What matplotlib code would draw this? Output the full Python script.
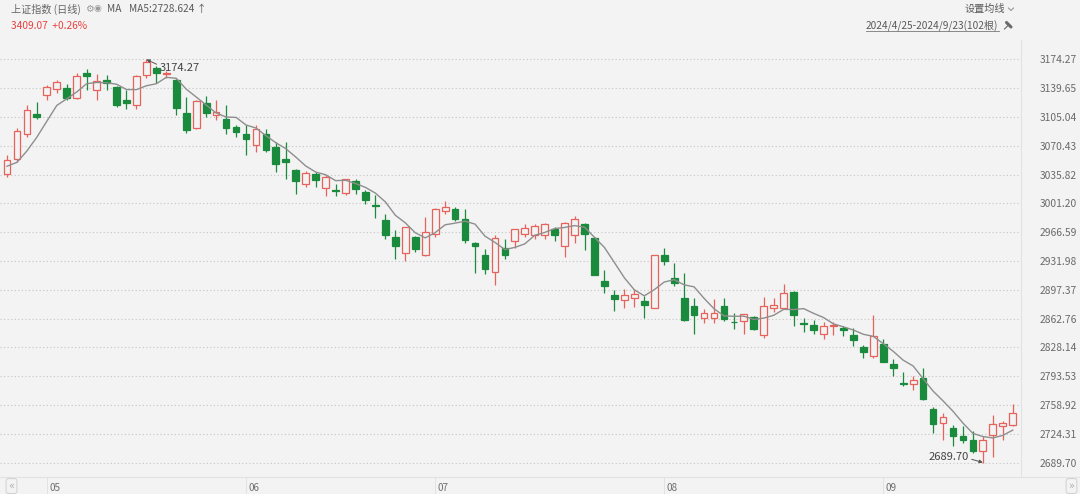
import numpy as np
import pandas as pd
import matplotlib
matplotlib.use("Agg")
import matplotlib.pyplot as plt

plt.rcParams['font.family'] = ['Noto Sans CJK SC', 'DejaVu Sans']

# 上证指数 日线 2024/4/25 - 2024/9/23
dates = [
    '2024-04-25', '2024-04-26', '2024-04-29', '2024-04-30',
    '2024-05-06', '2024-05-07', '2024-05-08', '2024-05-09', '2024-05-10',
    '2024-05-13', '2024-05-14', '2024-05-15', '2024-05-16', '2024-05-17',
    '2024-05-20', '2024-05-21', '2024-05-22', '2024-05-23', '2024-05-24',
    '2024-05-27', '2024-05-28', '2024-05-29', '2024-05-30', '2024-05-31',
    '2024-06-03', '2024-06-04', '2024-06-05', '2024-06-06', '2024-06-07',
    '2024-06-11', '2024-06-12', '2024-06-13', '2024-06-14',
    '2024-06-17', '2024-06-18', '2024-06-19', '2024-06-20', '2024-06-21',
    '2024-06-24', '2024-06-25', '2024-06-26', '2024-06-27', '2024-06-28',
    '2024-07-01', '2024-07-02', '2024-07-03', '2024-07-04', '2024-07-05',
    '2024-07-08', '2024-07-09', '2024-07-10', '2024-07-11', '2024-07-12',
    '2024-07-15', '2024-07-16', '2024-07-17', '2024-07-18', '2024-07-19',
    '2024-07-22', '2024-07-23', '2024-07-24', '2024-07-25', '2024-07-26',
    '2024-07-29', '2024-07-30', '2024-07-31',
    '2024-08-01', '2024-08-02',
    '2024-08-05', '2024-08-06', '2024-08-07', '2024-08-08', '2024-08-09',
    '2024-08-12', '2024-08-13', '2024-08-14', '2024-08-15', '2024-08-16',
    '2024-08-19', '2024-08-20', '2024-08-21', '2024-08-22', '2024-08-23',
    '2024-08-26', '2024-08-27', '2024-08-28', '2024-08-29', '2024-08-30',
    '2024-09-02', '2024-09-03', '2024-09-04', '2024-09-05', '2024-09-06',
    '2024-09-09', '2024-09-10', '2024-09-11', '2024-09-12', '2024-09-13',
    '2024-09-18', '2024-09-19', '2024-09-20', '2024-09-23',
]
opens = [
    3037, 3054, 3085, 3108.5,
    3131, 3139, 3140, 3128, 3158,
    3138, 3149, 3141, 3126, 3120,
    3155.5, 3164, 3156.5, 3150, 3110,
    3092, 3122, 3108, 3103, 3093,
    3085, 3071, 3085, 3069, 3054,
    3041, 3025, 3037, 3020,
    3017, 3014, 3028.5, 3014.5, 2999.5,
    2981, 2961, 2942, 2961, 2939,
    2964, 2992.5, 2994, 2983, 2953.5,
    2939, 2919, 2948, 2956, 2965,
    2963, 2963, 2970, 2950, 2963,
    2977, 2960, 2908, 2891, 2885,
    2888, 2884, 2876,
    2939, 2912,
    2888, 2878, 2863, 2864, 2878,
    2858.5, 2860, 2865, 2843, 2876,
    2876, 2895, 2858, 2855, 2844,
    2854, 2851, 2843, 2829, 2818,
    2832, 2808, 2785, 2784, 2791,
    2754, 2737, 2731, 2721.6, 2716.7,
    2703, 2723, 2733.6, 2735,
]
highs = [
    3059, 3092, 3119, 3123,
    3143, 3150, 3145, 3158, 3163,
    3157, 3155, 3142, 3137, 3156,
    3174.27, 3166, 3161, 3150.5, 3129,
    3126, 3130, 3126, 3119, 3096,
    3095, 3095, 3091, 3075, 3075,
    3043, 3040, 3039, 3035,
    3025, 3031, 3031, 3017, 3011,
    2989, 2969, 2973, 2962, 2985,
    2995.5, 3004, 2997, 2995, 2955,
    2946, 2963, 2958, 2971, 2977,
    2977, 2977.5, 2973, 2979, 2986,
    2978, 2960.5, 2921, 2897, 2898,
    2898, 2890, 2939.5,
    2947, 2930,
    2917, 2887, 2874, 2886, 2887,
    2869, 2867, 2866, 2889, 2887,
    2904, 2895.5, 2863, 2861, 2859,
    2859, 2854, 2851, 2831, 2867,
    2838, 2814, 2799, 2794, 2803,
    2756, 2749, 2735, 2734, 2727,
    2721.6, 2747, 2740, 2759.6,
]
lows = [
    3033, 3051, 3081, 3103,
    3125, 3134, 3125, 3127, 3137,
    3125, 3137, 3117, 3115, 3115,
    3152, 3146, 3152, 3108, 3086,
    3091, 3105, 3101, 3085, 3081,
    3059, 3063, 3063, 3039, 3030,
    3013, 3021, 3021, 3010,
    3010, 3011, 3013, 3000, 2984,
    2959, 2934, 2932, 2943, 2938,
    2961, 2988.5, 2980, 2954, 2918,
    2916, 2903, 2934, 2947, 2961,
    2959, 2958, 2956, 2937, 2954,
    2945, 2915, 2893, 2872, 2875,
    2877, 2864, 2876,
    2927, 2902,
    2860, 2844, 2857, 2857, 2860,
    2850, 2844, 2849, 2839, 2871,
    2875, 2854, 2847, 2844, 2838,
    2843, 2842, 2830, 2815, 2815.5,
    2810, 2794, 2782, 2777, 2765,
    2725, 2717, 2709.5, 2713.5, 2701.5,
    2689.70, 2696.7, 2716.7, 2733,
]
closes = [
    3052.90, 3088.64, 3113.04, 3104.82,
    3140.72, 3147.74, 3128.48, 3154.32, 3154.55,
    3148.02, 3145.77, 3119.90, 3122.40, 3154.03,
    3171.15, 3157.97, 3158.54, 3116.39, 3088.87,
    3124.04, 3109.57, 3111.02, 3091.68, 3086.81,
    3078.49, 3091.20, 3065.40, 3048.79, 3051.28,
    3028.05, 3037.47, 3028.92, 3032.63,
    3015.89, 3030.25, 3018.05, 3005.44, 2998.14,
    2963.10, 2950.00, 2972.53, 2945.85, 2967.40,
    2994.73, 2997.01, 2982.38, 2957.57, 2949.93,
    2922.45, 2959.37, 2939.36, 2970.39, 2971.30,
    2974.01, 2976.30, 2962.85, 2977.13, 2982.31,
    2964.22, 2915.37, 2901.95, 2886.43, 2890.90,
    2891.85, 2879.30, 2938.75,
    2932.39, 2905.34,
    2860.70, 2867.28, 2869.90, 2869.83, 2862.19,
    2858.20, 2867.95, 2850.65, 2877.36, 2879.43,
    2893.67, 2866.66, 2856.58, 2848.77, 2854.37,
    2855.52, 2848.76, 2837.43, 2823.11, 2842.21,
    2811.04, 2802.98, 2784.28, 2788.31, 2765.81,
    2736.49, 2744.19, 2721.80, 2717.12, 2704.09,
    2717.28, 2736.02, 2736.81, 2748.92,
]
# closes of the 4 sessions before 4/25, only for the MA5 warm-up
prev_closes = [3065.26, 3044.60, 3021.98, 3044.82]

ytick_vals = [2689.70, 2724.31, 2758.92, 2793.53, 2828.14, 2862.76, 2897.37,
              2931.98, 2966.59, 3001.20, 3035.82, 3070.43, 3105.04, 3139.65,
              3174.27]

W, H = 1080, 494
BG = '#f3f3f3'
RED = '#e8625c'
GREEN = '#1a8a3c'
GRID = '#c4c4c4'
TXT = '#5a5a5a'


def fx(px):
    return px / W


def fy(py):
    return 1 - py / H


fig = plt.figure(figsize=(W / 100, H / 100), dpi=100, facecolor=BG)
ax = fig.add_axes([0, 17 / H, 1020.5 / W, 437 / H], facecolor=BG)

o, h, l, c = (np.array(v, dtype=float) for v in (opens, highs, lows, closes))
xs = np.arange(len(c))
up = c >= o
col = np.where(up, RED, GREEN)

# 影线
ax.vlines(xs, l, h, colors=col, linewidth=0.9, zorder=2)
# 实体: 阳线空心, 阴线实心
body_lo = np.minimum(o, c)
body_h = np.abs(c - o)
ax.bar(xs[up], body_h[up], bottom=body_lo[up], width=0.68,
       facecolor=BG, edgecolor=RED, linewidth=0.9, zorder=3)
ax.bar(xs[~up], body_h[~up], bottom=body_lo[~up], width=0.68,
       facecolor=GREEN, edgecolor=GREEN, linewidth=0.9, zorder=3)

# MA5
ma5 = pd.Series(prev_closes + closes).rolling(5).mean().iloc[len(prev_closes):].to_numpy()
ax.plot(xs, ma5, color='#8e8e8e', linewidth=1.0, zorder=4)

ax.set_xlim(-0.703, 101.78)
ax.set_ylim(2672.27, 3197.67)

# 网格 + 右侧价格轴
ax.set_yticks(ytick_vals)
ax.set_yticklabels([f'{v:.2f}' for v in ytick_vals])
ax.yaxis.tick_right()
ax.tick_params(axis='y', length=0, pad=40.5, labelsize=7.4, labelcolor='#6a6a6a')
for t in ax.get_yticklabels():
    t.set_horizontalalignment('right')
ax.yaxis.grid(True, color=GRID, linestyle=(0, (1, 2.2)), linewidth=0.8)
ax.set_axisbelow(True)

# 月份刻度
month_idx = [i for i in range(1, len(dates)) if dates[i][:7] != dates[i - 1][:7]]
ax.set_xticks(month_idx)
ax.tick_params(axis='x', length=12.2, width=0.7, color='#e2e2e2', labelbottom=False)
xtr = ax.get_xaxis_transform()
for i in month_idx:
    ax.text(i + 0.25, -0.0252, dates[i][5:7], transform=xtr, ha='left', va='center',
            fontsize=7.2, color='#707070')

for s in ('top', 'left'):
    ax.spines[s].set_visible(False)
ax.spines['right'].set_color('#e2e2e2')
ax.spines['bottom'].set_color('#e2e2e2')
ax.spines['right'].set_linewidth(0.8)
ax.spines['bottom'].set_linewidth(0.8)
fig.add_artist(plt.Line2D([fx(1020), 1], [fy(477), fy(477)], color='#e2e2e2', linewidth=0.8))

# 最高/最低标注
i_hi = int(np.argmax(h))
i_lo = int(np.argmin(l))
ax.annotate(f'{h[i_hi]:.2f}', xy=(i_hi, h[i_hi]), xytext=(i_hi + 1.3, h[i_hi] - 10.3),
            ha='left', va='center', fontsize=8, color='#444444', zorder=6,
            arrowprops=dict(arrowstyle='-|>', color='#555555', lw=0.7, mutation_scale=5,
                            shrinkA=0, shrinkB=0, relpos=(0, 0.75)))
ax.annotate(f'{l[i_lo]:.2f}', xy=(i_lo, l[i_lo]), xytext=(i_lo - 1.4, l[i_lo] + 7.2),
            ha='right', va='center', fontsize=8, color='#444444', zorder=6,
            arrowprops=dict(arrowstyle='-|>', color='#555555', lw=0.7, mutation_scale=5,
                            shrinkA=0, shrinkB=0, relpos=(1, 0.3)))

# 顶部信息栏
fig.text(fx(11), fy(9), '上证指数 (日线)', fontsize=7.3, color='#666666', va='center')
fig.text(fx(85), fy(9), '⚙', fontsize=7, color='#9a9a9a', va='center',
         family=['DejaVu Sans'])
fig.text(fx(94), fy(9), '◉', fontsize=6.5, color='#9a9a9a', va='center',
         family=['DejaVu Sans'])
fig.text(fx(107), fy(9), 'MA', fontsize=7.3, color=TXT, va='center')
fig.text(fx(129), fy(9), f'MA5:{ma5[-1]:.3f} ↑', fontsize=7.3, color=TXT, va='center')
fig.text(fx(11), fy(26), '3409.07  +0.26%', fontsize=7.3, color='#e8413e', va='center')

fig.text(fx(965), fy(9), '设置均线', fontsize=7.3, color=TXT, va='center')
# 下拉小箭头
fig.add_artist(plt.Line2D([fx(1008.5), fx(1011), fx(1013.5)], [fy(8), fy(10.5), fy(8)],
                          color='#8a8a8a', linewidth=0.7))
rng = f'{dates[0][:4]}/{int(dates[0][5:7])}/{int(dates[0][8:])}-' \
      f'{dates[-1][:4]}/{int(dates[-1][5:7])}/{int(dates[-1][8:])}({len(dates)}根)'
fig.text(fx(866), fy(25), rng, fontsize=7.3, color=TXT, va='center')
fig.add_artist(plt.Line2D([fx(866), fx(999)], [fy(31.5), fy(31.5)], color='#777777',
                          linewidth=0.6))
# 图钉
fig.add_artist(plt.Line2D([fx(1004.5), fx(1008)], [fy(29), fy(25.5)], color='#6a6a6a',
                          linewidth=0.8))
fig.add_artist(plt.Line2D([fx(1006.5), fx(1011)], [fy(22.5), fy(27)], color='#6a6a6a',
                          linewidth=2.2, solid_capstyle='round'))

# 底部翻页按钮
for x0, s in ((11.5, '«'), (1071.5, '»')):
    fig.text(fx(x0), fy(486), s, fontsize=7, color='#b0b0b0', ha='center', va='center',
             family=['DejaVu Sans'],
             bbox=dict(boxstyle='round,pad=0.25', facecolor=BG, edgecolor='#d0d0d0',
                       linewidth=0.7))

fig.savefig('out.png', dpi=100, facecolor=BG)
